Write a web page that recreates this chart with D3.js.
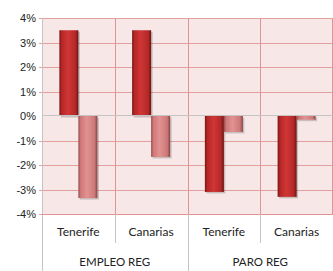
<!DOCTYPE html>
<html>
<head>
<meta charset="utf-8">
<script src="https://cdn.jsdelivr.net/npm/d3@7"></script>
<style>
  body { margin: 0; background: #fff; }
  svg { display: block; font-family: Lato, 'Open Sans', sans-serif; }
</style>
</head>
<body>
<div id="chart"></div>
<script>
// Data
const groups = ['EMPLEO REG', 'PARO REG']
const regions = ['Tenerife', 'Canarias']
const categories = ['EMPLEO REG|Tenerife', 'EMPLEO REG|Canarias', 'PARO REG|Tenerife', 'PARO REG|Canarias']
const series1 = [3.5, 3.5, -3.1, -3.3]
const series2 = [-3.35, -1.67, -0.65, -0.15]
const yTicks = [4, 3, 2, 1, 0, -1, -2, -3, -4]

const width = 333
const height = 271
const margin = { top: 18, right: 0, bottom: 57, left: 42 }
const chartWidth = width - margin.left - margin.right
const chartHeight = height - margin.top - margin.bottom

const svg = d3.select('#chart').append('svg')
    .attr('width', width)
    .attr('height', height)

// Gradients
const defs = svg.append('defs')
function gradient(id, stops) {
    const g = defs.append('linearGradient').attr('id', id)
        .attr('x1', 0).attr('x2', 1).attr('y1', 0).attr('y2', 0)
    stops.forEach(([o, c]) => g.append('stop').attr('offset', o).attr('stop-color', c))
}
gradient('dark', [[0, '#761414'], [0.12, '#b42626'], [0.45, '#d03636'], [0.85, '#b42828'], [1, '#6a1212']])
gradient('light', [[0, '#944a4a'], [0.12, '#d07878'], [0.45, '#e29292'], [0.85, '#cc7878'], [1, '#884242']])

// Scales
const x = d3.scaleBand().domain(categories).range([0, chartWidth])
const y = d3.scaleLinear().domain([-4, 4]).range([chartHeight, 0])
const inner = d3.scaleBand().domain([0, 1]).range([0, 38])

const g = svg.append('g').attr('transform', `translate(${margin.left},${margin.top})`)

// Background
g.append('rect').attr('width', chartWidth).attr('height', chartHeight).attr('fill', '#f7e7e7')

// Grid
g.selectAll('line.hgrid').data(yTicks.filter(d => d !== 0)).enter().append('line')
    .attr('x1', -3).attr('x2', chartWidth)
    .attr('y1', d => Math.round(y(d)) + 0.5).attr('y2', d => Math.round(y(d)) + 0.5)
    .attr('stroke', '#e2a0a0')
g.selectAll('line.vgrid').data(categories.slice(1)).enter().append('line')
    .attr('x1', d => Math.round(x(d)) + 0.5).attr('x2', d => Math.round(x(d)) + 0.5)
    .attr('y1', 0).attr('y2', chartHeight)
    .attr('stroke', '#e09494')
g.append('line')
    .attr('x1', chartWidth - 0.5).attr('x2', chartWidth - 0.5)
    .attr('y1', 0).attr('y2', chartHeight).attr('stroke', '#e09494')

// Y axis
const yAxis = d3.axisLeft(y).tickValues(yTicks).tickSize(0).tickPadding(6).tickFormat(d => d + '%')
g.append('g').call(yAxis)
    .call(s => s.select('.domain').remove())
    .selectAll('text').attr('font-size', 11).attr('fill', '#222')

// Bars
const barData = categories.flatMap((c, i) => [
    { c, k: 0, v: series1[i] },
    { c, k: 1, v: series2[i] }
])
const bw = inner.bandwidth()
// shadow
g.selectAll('rect.shadow').data(barData).enter().append('rect')
    .attr('x', d => x(d.c) + (x.bandwidth() - 38) / 2 + inner(d.k) + 1.5)
    .attr('y', d => Math.min(y(d.v), y(0)) + 1.5)
    .attr('width', bw)
    .attr('height', d => Math.abs(y(d.v) - y(0)))
    .attr('fill', 'rgba(0,0,0,0.18)')
g.selectAll('rect.bar').data(barData).enter().append('rect')
    .attr('x', d => x(d.c) + (x.bandwidth() - 38) / 2 + inner(d.k))
    .attr('y', d => Math.min(y(d.v), y(0)))
    .attr('width', bw)
    .attr('height', d => Math.abs(y(d.v) - y(0)))
    .attr('fill', d => d.k === 0 ? 'url(#dark)' : 'url(#light)')

// Zero line
g.append('line')
    .attr('x1', 0).attr('x2', chartWidth)
    .attr('y1', Math.round(y(0)) - 0.5).attr('y2', Math.round(y(0)) - 0.5)
    .attr('stroke', '#c4c4c4')

// Axis lines
g.append('line').attr('x1', 0.5).attr('x2', 0.5).attr('y1', 0).attr('y2', height - margin.top)
    .attr('stroke', '#c4c4c4')
g.append('line').attr('x1', 0).attr('x2', chartWidth)
    .attr('y1', chartHeight + 0.5).attr('y2', chartHeight + 0.5).attr('stroke', '#e09494')

// Category labels
g.selectAll('text.cat').data(categories).enter().append('text')
    .attr('x', d => x(d) + x.bandwidth() / 2)
    .attr('y', chartHeight + 22)
    .attr('text-anchor', 'middle').attr('font-size', 12).attr('fill', '#222')
    .text(d => d.split('|')[1])

// Separators
categories.forEach((c, i) => {
    if (i === 0) return
    const full = i % regions.length === 0
    g.append('line')
        .attr('x1', Math.round(x(c)) + 0.5).attr('x2', Math.round(x(c)) + 0.5)
        .attr('y1', chartHeight).attr('y2', full ? height - margin.top : chartHeight + 29)
        .attr('stroke', '#c4c4c4')
})

// Group labels
groups.forEach((grp, i) => {
    const x0 = x(categories[i * regions.length])
    g.append('text')
        .attr('x', x0 + x.bandwidth())
        .attr('y', chartHeight + 52)
        .attr('text-anchor', 'middle').attr('font-size', 11.5).attr('fill', '#222')
        .text(grp)
})
</script>
</body>
</html>
